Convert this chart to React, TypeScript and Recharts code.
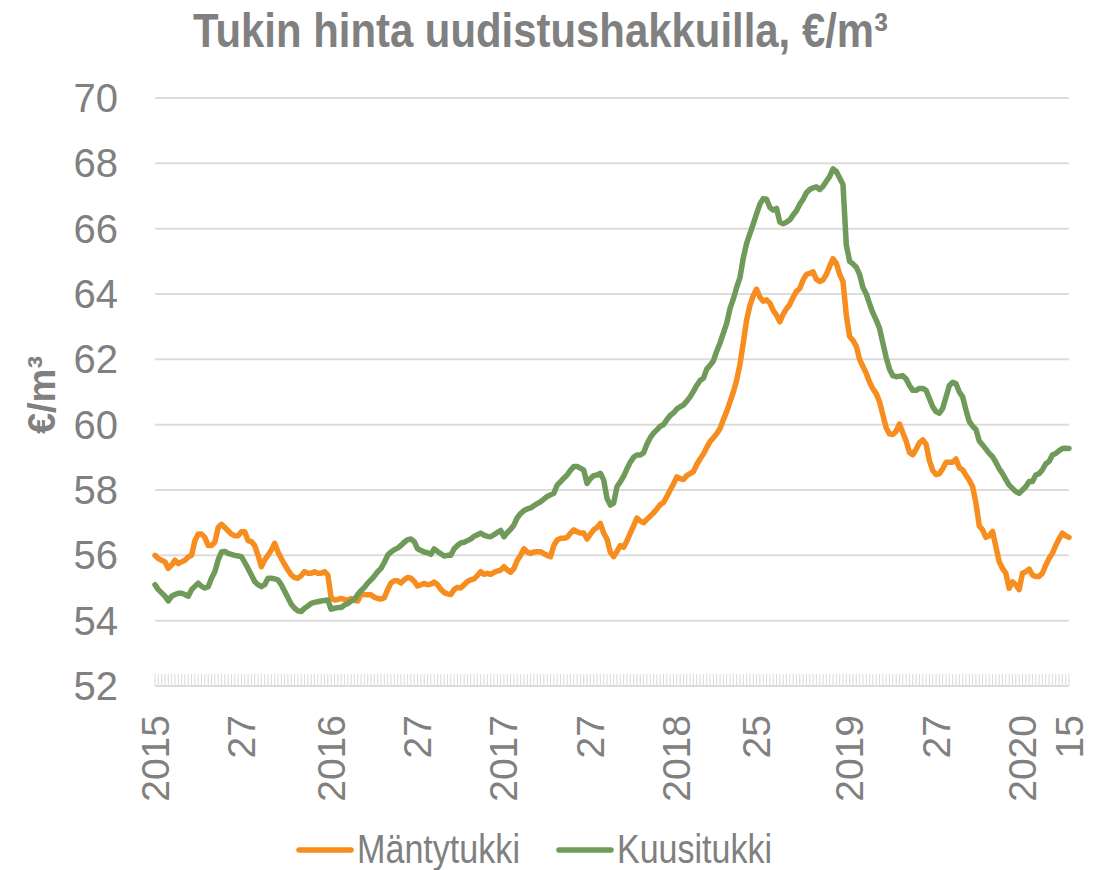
import React from 'react';
import { LineChart, Line, XAxis, YAxis, CartesianGrid } from 'recharts';

// ISO weeks shown on the category axis (2015 has 53 weeks)
const yearWeeks: [number, number][] = [
  [2015, 53], [2016, 52], [2017, 52], [2018, 52], [2019, 52], [2020, 15],
];
const weeks: string[] = yearWeeks.flatMap(([y, n]) =>
  Array.from({ length: n }, (_, i) => `${y}-${i + 1}`)
);

const tickLabels: Record<string, string> = {
  '2015-1': '2015', '2015-27': '27',
  '2016-1': '2016', '2016-27': '27',
  '2017-1': '2017', '2017-27': '27',
  '2018-1': '2018', '2018-25': '25',
  '2019-1': '2019', '2019-27': '27',
  '2020-1': '2020', '2020-15': '15',
};

const yTicks = [52, 54, 56, 58, 60, 62, 64, 66, 68, 70];

const seriesNames = ['Mäntytukki', 'Kuusitukki'];
const seriesColors = ['#F68D1E', '#6F9A5A'];

const mantytukki = [
  56.0, 55.9, 55.85, 55.8, 55.6, 55.7, 55.85, 55.75, 55.8, 55.85,
  55.95, 56.0, 56.45, 56.65, 56.65, 56.55, 56.3, 56.3, 56.4, 56.85,
  56.95, 56.85, 56.75, 56.65, 56.6, 56.6, 56.72, 56.72, 56.45, 56.42,
  56.3, 56.0, 55.65, 55.86, 56.0, 56.16, 56.37, 56.1, 55.9, 55.72,
  55.55, 55.4, 55.32, 55.3, 55.38, 55.5, 55.45, 55.45, 55.5, 55.45,
  55.45, 55.5, 55.4, 54.7, 54.63, 54.65, 54.68, 54.65, 54.63, 54.68,
  54.62, 54.6, 54.82, 54.8, 54.79, 54.79, 54.72, 54.68, 54.66, 54.7,
  54.95, 55.15, 55.22, 55.22, 55.15, 55.25, 55.32, 55.3, 55.2, 55.06,
  55.1, 55.14, 55.1, 55.12, 55.18, 55.1, 54.96, 54.86, 54.82, 54.8,
  54.95, 55.02, 55.0, 55.1, 55.2, 55.25, 55.28, 55.38, 55.5, 55.42,
  55.45, 55.42, 55.48, 55.52, 55.55, 55.65, 55.55, 55.48, 55.6, 55.85,
  56.0, 56.2, 56.1, 56.06, 56.1, 56.11, 56.11, 56.05, 56.0, 55.96,
  56.3, 56.47, 56.52, 56.52, 56.55, 56.68, 56.78, 56.72, 56.68, 56.68,
  56.5, 56.65, 56.78, 56.85, 56.98, 56.68, 56.5, 56.1, 55.96, 56.12,
  56.3, 56.25, 56.45, 56.68, 56.9, 57.14, 57.05, 57.0, 57.1, 57.2,
  57.3, 57.42, 57.55, 57.62, 57.8, 58.0, 58.18, 58.4, 58.35, 58.32,
  58.44, 58.5, 58.56, 58.78, 58.95, 59.1, 59.3, 59.48, 59.6, 59.72,
  59.88, 60.15, 60.4, 60.7, 61.0, 61.35, 61.85, 62.5, 63.2, 63.65,
  63.95, 64.15, 63.9, 63.78, 63.82, 63.72, 63.5, 63.35, 63.15, 63.38,
  63.55, 63.68, 63.9, 64.08, 64.17, 64.43, 64.6, 64.63, 64.68, 64.45,
  64.38, 64.43, 64.6, 64.85, 65.08, 64.94, 64.6, 64.38, 63.35, 62.7,
  62.58, 62.4, 62.0, 61.78, 61.57, 61.3, 61.1, 60.95, 60.7, 60.3,
  59.9, 59.72, 59.7, 59.8, 60.02, 59.75, 59.5, 59.15, 59.08, 59.25,
  59.45, 59.53, 59.4, 58.9, 58.6, 58.47, 58.5, 58.65, 58.85, 58.85,
  58.85, 58.95, 58.68, 58.62, 58.45, 58.3, 58.1, 57.6, 56.9, 56.78,
  56.55, 56.6, 56.73, 56.27, 55.8, 55.6, 55.45, 54.99, 55.19, 55.1,
  54.95, 55.45, 55.5, 55.58, 55.4, 55.35, 55.35, 55.45, 55.7, 55.9,
  56.06, 56.3, 56.5, 56.68, 56.6, 56.55,
];

const kuusitukki = [
  55.1, 54.95, 54.85, 54.75, 54.6, 54.75, 54.8, 54.84, 54.84, 54.8,
  54.75, 54.95, 55.05, 55.15, 55.05, 55.0, 55.04, 55.3, 55.5, 55.86,
  56.1, 56.12, 56.06, 56.03, 56.0, 55.98, 55.96, 55.78, 55.6, 55.4,
  55.2, 55.1, 55.04, 55.1, 55.3, 55.3, 55.28, 55.25, 55.1, 54.9,
  54.7, 54.5, 54.38, 54.3, 54.28, 54.38, 54.45, 54.53, 54.56, 54.58,
  54.6, 54.62, 54.63, 54.35, 54.38, 54.4, 54.4, 54.48, 54.52, 54.6,
  54.65, 54.8, 54.92, 55.02, 55.15, 55.25, 55.36, 55.5, 55.6, 55.78,
  56.0, 56.1, 56.17, 56.22, 56.3, 56.4, 56.48, 56.5, 56.42, 56.2,
  56.15, 56.1, 56.08, 56.03, 56.2, 56.12, 56.05, 55.98, 56.0, 56.0,
  56.2, 56.3, 56.38, 56.4, 56.45, 56.5, 56.58, 56.63, 56.68, 56.62,
  56.58, 56.57, 56.63, 56.7, 56.76, 56.57, 56.7, 56.8, 56.93, 57.15,
  57.28, 57.37, 57.42, 57.45, 57.52, 57.58, 57.64, 57.72, 57.8, 57.85,
  57.9, 58.15, 58.25, 58.36, 58.46, 58.6, 58.72, 58.72, 58.67, 58.61,
  58.2, 58.35, 58.44, 58.46, 58.51, 58.31, 57.74, 57.54, 57.6, 58.1,
  58.25, 58.42, 58.65, 58.85, 59.0, 59.07, 59.07, 59.14, 59.4, 59.6,
  59.74, 59.84, 59.95, 60.0, 60.15, 60.28, 60.36, 60.48, 60.55, 60.6,
  60.72, 60.85, 61.02, 61.2, 61.35, 61.42, 61.7, 61.82, 61.95, 62.25,
  62.5, 62.8, 63.1, 63.55, 63.85, 64.2, 64.5, 65.1, 65.55, 65.85,
  66.15, 66.45, 66.75, 66.92, 66.9, 66.65, 66.57, 66.62, 66.2, 66.15,
  66.2, 66.27, 66.42, 66.55, 66.75, 66.9, 67.1, 67.2, 67.25, 67.28,
  67.2, 67.3, 67.45, 67.6, 67.83, 67.75, 67.55, 67.35, 65.5, 65.0,
  64.92, 64.82, 64.6, 64.2, 64.0, 63.7, 63.42, 63.2, 62.95, 62.5,
  62.05, 61.7, 61.5, 61.47, 61.48, 61.5, 61.4, 61.2, 61.05, 61.05,
  61.11, 61.11, 61.05, 60.8, 60.55, 60.4, 60.35, 60.5, 60.85, 61.2,
  61.3, 61.25, 61.0, 60.85, 60.45, 60.1, 59.95, 59.85, 59.5, 59.38,
  59.25, 59.12, 59.02, 58.85, 58.65, 58.5, 58.32, 58.15, 58.05, 57.95,
  57.9, 58.0, 58.1, 58.26, 58.26, 58.46, 58.5, 58.62, 58.8, 58.87,
  59.07, 59.12, 59.2, 59.27, 59.28, 59.27,
];

const data = weeks.map((w, i) => ({
  week: w,
  [seriesNames[0]]: mantytukki[i],
  [seriesNames[1]]: kuusitukki[i],
}));

const TEXT_GRAY = '#808080';
const FONT = '"Liberation Sans", Arial, sans-serif';

const XTick = (props: any) => {
  const { x, y, payload } = props;
  const label = tickLabels[payload.value];
  const ly = y + 29;
  return (
    <g>
      <line x1={x} x2={x} y1={y - 12} y2={y} stroke="#D9D9D9" strokeWidth={1} />
      {label ? (
        <text
          x={x}
          y={ly}
          transform={`rotate(-90 ${x} ${ly})`}
          textAnchor="end"
          dominantBaseline="central"
          fill={TEXT_GRAY}
          fontFamily={FONT}
          fontSize={39}
        >
          {label}
        </text>
      ) : null}
    </g>
  );
};

const YTick = (props: any) => {
  const { y, payload } = props;
  return (
    <text
      x={118}
      y={y}
      textAnchor="end"
      dominantBaseline="central"
      fill={TEXT_GRAY}
      fontFamily={FONT}
      fontSize={40}
    >
      {payload.value}
    </text>
  );
};

const legendPos = [
  { x0: 299, textX: 357, textLen: 163 },
  { x0: 559, textX: 617, textLen: 155 },
];

export default function App() {
  return (
    <div style={{ position: 'absolute', left: 0, top: 0, width: 1110, height: 870, background: '#fff' }}>
      <LineChart
        width={1110}
        height={870}
        data={data}
        margin={{ top: 98, right: 41, bottom: 0, left: 0 }}
      >
        <CartesianGrid vertical={false} stroke="#DCDCDC" strokeWidth={2} />
        <XAxis
          dataKey="week"
          interval={0}
          height={184}
          axisLine={false}
          tickLine={false}
          tickSize={0}
          tickMargin={0}
          tick={<XTick />}
        />
        <YAxis
          domain={[52, 70]}
          ticks={yTicks}
          width={155}
          axisLine={false}
          tickLine={false}
          tick={<YTick />}
          interval={0}
        />
        {seriesNames.map((name, i) => (
          <Line
            key={name}
            type="linear"
            dataKey={name}
            stroke={seriesColors[i]}
            strokeWidth={5.5}
            strokeLinejoin="round"
            strokeLinecap="round"
            dot={false}
            activeDot={false}
            isAnimationActive={false}
          />
        ))}
      </LineChart>
      <svg
        width={1110}
        height={870}
        style={{ position: 'absolute', left: 0, top: 0, pointerEvents: 'none' }}
      >
        <text
          x={193}
          y={47}
          textLength={695}
          lengthAdjust="spacingAndGlyphs"
          fill={TEXT_GRAY}
          fontFamily={FONT}
          fontWeight="bold"
          fontSize={49}
        >
          Tukin hinta uudistushakkuilla, €/m³
        </text>
        <text
          x={42}
          y={395}
          transform="rotate(-90 42 395)"
          textAnchor="middle"
          dominantBaseline="central"
          fill={TEXT_GRAY}
          fontFamily={FONT}
          fontWeight="bold"
          fontSize={38}
        >
          €/m³
        </text>
        {seriesNames.map((name, i) => {
          const p = legendPos[i];
          return (
            <g key={name}>
              <line
                x1={p.x0}
                x2={p.x0 + 52}
                y1={850}
                y2={850}
                stroke={seriesColors[i]}
                strokeWidth={5.5}
                strokeLinecap="round"
              />
              <text
                x={p.textX}
                y={863}
                textLength={p.textLen}
                lengthAdjust="spacingAndGlyphs"
                fill={TEXT_GRAY}
                fontFamily={FONT}
                fontSize={40}
              >
                {name}
              </text>
            </g>
          );
        })}
      </svg>
    </div>
  );
}
